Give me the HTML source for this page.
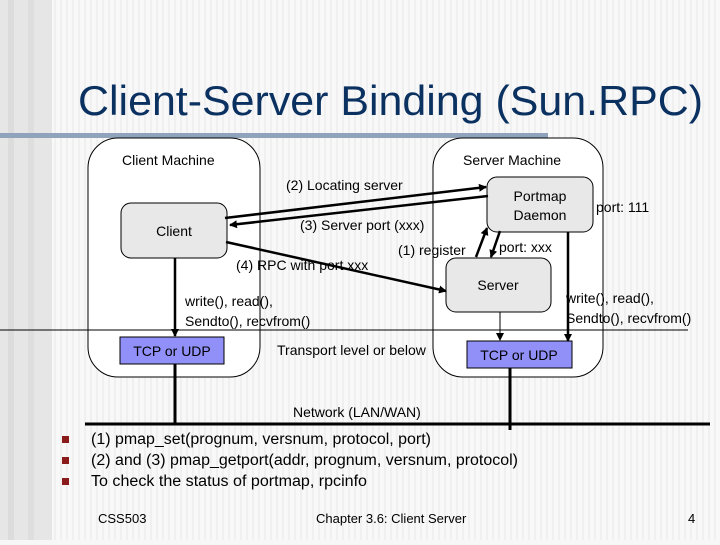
<!DOCTYPE html>
<html><head><meta charset="utf-8"><style>
html,body{margin:0;padding:0}
body{width:720px;height:540px;overflow:hidden;background:#f7f7f7}
svg text{font-family:"Liberation Sans",sans-serif}
</style></head><body>
<svg width="720" height="540" viewBox="0 0 720 540" xmlns="http://www.w3.org/2000/svg">
<defs>
<marker id="a" markerWidth="8" markerHeight="8" refX="7" refY="4" orient="auto" markerUnits="userSpaceOnUse"><path d="M0,0 L8,4 L0,8 z" fill="#000"/></marker>
<pattern id="st" width="6" height="10" patternUnits="userSpaceOnUse"><rect width="6" height="10" fill="#f8f8f8"/><rect width="2" height="10" fill="#f0f0f0"/></pattern>
</defs>
<rect width="720" height="540" fill="url(#st)"/>
<rect x="0" y="0" width="52" height="540" fill="#e6e6e6"/>
<rect x="8" y="0" width="6" height="540" fill="#dcdcdc"/>
<rect x="28" y="0" width="6" height="540" fill="#dedede"/>
<text x="78" y="115" font-size="42" fill="#0b3161" textLength="625" lengthAdjust="spacingAndGlyphs">Client-Server Binding (Sun.RPC)</text>
<rect x="0" y="133" width="548" height="5" fill="#8fa3bd"/>
<rect x="88" y="138" width="172" height="239" rx="30" fill="#fff" stroke="#000"/>
<rect x="433" y="138" width="170" height="239" rx="30" fill="#fff" stroke="#000"/>
<line x1="0" y1="330" x2="688" y2="330" stroke="#000" stroke-width="1"/>
<rect x="121" y="203" width="106" height="55" rx="10" fill="#e8e8e8" stroke="#000"/>
<rect x="487" y="177" width="106" height="55" rx="10" fill="#e8e8e8" stroke="#000"/>
<rect x="446" y="258" width="105" height="54" rx="10" fill="#e8e8e8" stroke="#000"/>
<rect x="120" y="337" width="104" height="27" fill="#9090f8" stroke="#000"/>
<rect x="467" y="341" width="105" height="27" fill="#9090f8" stroke="#000"/>
<g stroke="#000" stroke-width="2.5" fill="none">
<line x1="225" y1="218" x2="486" y2="187" marker-end="url(#a)"/>
<line x1="488" y1="196" x2="230" y2="225" marker-end="url(#a)"/>
<line x1="226" y1="242" x2="446" y2="291" marker-end="url(#a)"/>
<line x1="476" y1="257" x2="487" y2="228" marker-end="url(#a)"/>
<line x1="500" y1="231" x2="491" y2="257" marker-end="url(#a)"/>
<line x1="175" y1="258" x2="175" y2="336" marker-end="url(#a)"/>
<line x1="568" y1="232" x2="568" y2="341" marker-end="url(#a)"/>
<line x1="175" y1="364" x2="175" y2="424" stroke-width="3"/>
<line x1="510" y1="368" x2="510" y2="430" stroke-width="3"/>
<line x1="85" y1="424" x2="710" y2="424" stroke-width="3"/>
</g>
<line x1="500" y1="312" x2="500" y2="340" stroke="#000" stroke-width="1" marker-end="url(#a)"/>
<g font-size="14" fill="#000">
<text x="122" y="165">Client Machine</text>
<text x="463" y="165">Server Machine</text>
<text x="174" y="236" text-anchor="middle">Client</text>
<text x="540" y="201" text-anchor="middle">Portmap</text>
<text x="540" y="220" text-anchor="middle">Daemon</text>
<text x="498" y="290" text-anchor="middle">Server</text>
<text x="286" y="190">(2) Locating server</text>
<text x="300" y="230">(3) Server port (xxx)</text>
<text x="398" y="255">(1) register</text>
<text x="499" y="252">port: xxx</text>
<text x="236" y="270">(4) RPC with port xxx</text>
<text x="596" y="212">port: 111</text>
<text x="185" y="306">write(), read(),</text>
<text x="185" y="326">Sendto(), recvfrom()</text>
<text x="566" y="303">write(), read(),</text>
<text x="566" y="323">Sendto(), recvfrom()</text>
<text x="277" y="355">Transport level or below</text>
<text x="293" y="417">Network (LAN/WAN)</text>
<text x="172" y="356" text-anchor="middle">TCP or UDP</text>
<text x="519" y="360" text-anchor="middle">TCP or UDP</text>
</g>
<g fill="#8b1a1a">
<rect x="62" y="436" width="7" height="7"/>
<rect x="62" y="457" width="7" height="7"/>
<rect x="62" y="478" width="7" height="7"/>
</g>
<g font-size="15.5" fill="#000">
<text x="91" y="444" textLength="340" lengthAdjust="spacingAndGlyphs">(1) pmap_set(prognum, versnum, protocol, port)</text>
<text x="91" y="465" textLength="427" lengthAdjust="spacingAndGlyphs">(2) and (3) pmap_getport(addr, prognum, versnum, protocol)</text>
<text x="91" y="486" textLength="276" lengthAdjust="spacingAndGlyphs">To check the status of portmap, rpcinfo</text>
</g>
<g font-size="13" fill="#000">
<text x="98" y="523">CSS503</text>
<text x="316" y="523">Chapter 3.6: Client Server</text>
<text x="688" y="523">4</text>
</g>
</svg>
</body></html>
